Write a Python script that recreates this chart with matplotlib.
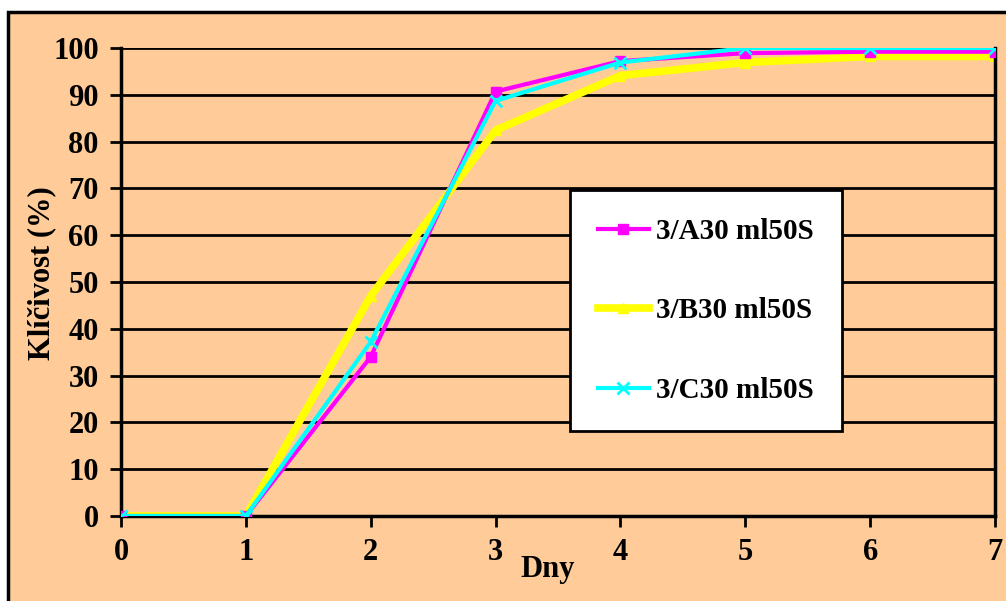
import matplotlib
matplotlib.use('Agg')
import matplotlib.pyplot as plt
from matplotlib.patches import Rectangle

plt.rcParams['font.family'] = ['Liberation Serif', 'DejaVu Serif']
plt.rcParams['font.weight'] = 'bold'

days = [0, 1, 2, 3, 4, 5, 6, 7]
series_a = [0, 0, 34, 90.7, 97.2, 98.9, 99.2, 99.2]
series_b = [0, 0, 47, 82.4, 94.1, 96.9, 98.2, 98.2]
series_c = [0, 0, 37.2, 88.7, 96.9, 100, 100, 100]
labels = ['3/A30 ml50S', '3/B30 ml50S', '3/C30 ml50S']
y_ticks = list(range(0, 101, 10))

peach = '#FFCC99'

fig = plt.figure(figsize=(10.06, 6.01), dpi=100)
fig.patch.set_facecolor('white')

# chart area frame, runs off the right and bottom edges
frame = Rectangle((8 / 1006, -0.05), 1.1, (601 - 12) / 601 + 0.05,
                  transform=fig.transFigure, facecolor=peach,
                  edgecolor='black', linewidth=2.5, zorder=-10)
fig.patches.append(frame)

ax = fig.add_axes([121 / 1006, 85 / 601, 874 / 1006, 468 / 601])
ax.patch.set_alpha(0)

ax.plot(days, series_a, color='#FF00FF', lw=3, marker='s', ms=7,
        label=labels[0], zorder=3)
ax.plot(days, series_b, color='#FFFF00', lw=5.5, marker='^', ms=7,
        label=labels[1], zorder=2)
ax.plot(days, series_c, color='#00FFFF', lw=3, marker='x', ms=9, mew=2,
        label=labels[2], zorder=4)

ax.set_xlim(0, 7)
ax.set_ylim(0, 100)
ax.set_xticks(days)
ax.set_yticks(y_ticks)
ax.yaxis.grid(True, color='black', lw=2)
ax.set_axisbelow(True)

for side in ['left', 'bottom', 'right']:
    ax.spines[side].set_linewidth(2.5)
    ax.spines[side].set_color('black')
ax.spines['top'].set_visible(False)

ax.tick_params(axis='both', direction='out', length=8, width=2,
               labelsize=22, pad=8)
for lbl in ax.get_xticklabels() + ax.get_yticklabels():
    lbl.set_fontweight('bold')

ax.set_ylabel('Klíčivost (%)', fontsize=22, fontweight='bold')
ax.yaxis.set_label_coords(-0.074, 0.519)
ax.set_xlabel('Dny', fontsize=22, fontweight='bold')
ax.xaxis.set_label_coords(0.4886, -0.083)

leg = ax.legend(loc='upper left', bbox_to_anchor=(449 / 874, 326 / 468),
                frameon=True, fancybox=False,
                prop={'weight': 'bold', 'size': 21},
                handlelength=1.75, handletextpad=0.25,
                labelspacing=1.8, borderpad=0.95,
                borderaxespad=0)
leg.get_frame().set_edgecolor('black')
leg.get_frame().set_linewidth(2)
leg.get_frame().set_facecolor('white')
leg.get_frame().set_alpha(1)

fig.savefig('out.png', dpi=100, facecolor='white')
